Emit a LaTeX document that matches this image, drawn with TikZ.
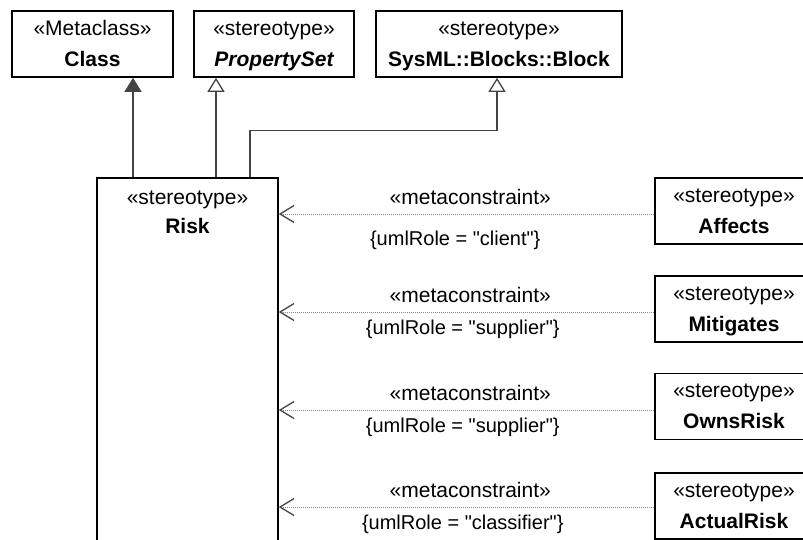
\documentclass[tikz,border=0pt]{standalone}
\usepackage{fontspec}
\setmainfont{Liberation Sans}[Ligatures=TeXOff]
\usetikzlibrary{arrows.meta}
\definecolor{edgegray}{HTML}{444444}
\definecolor{depgray}{HTML}{8A8A8A}
\begin{document}
\begin{tikzpicture}[x=1pt,y=-1pt,
  font=\fontsize{21}{25}\selectfont,
  umlbox/.style={draw=black, line width=1.6pt, fill=white, inner sep=0pt, minimum height=66pt},
  stereo/.style={anchor=base, inner sep=0pt},
  elemname/.style={anchor=base, inner sep=0pt, font=\fontsize{21}{25}\selectfont\bfseries},
  genfill/.style={draw=edgegray, line width=1.3pt, -{Triangle[length=14pt,width=17pt,fill=edgegray]}},
  genopen/.style={draw=edgegray, line width=1.3pt, -{Triangle[open,length=14pt,width=17pt,fill=white]}},
  dep/.style={draw=depgray, line width=1pt, dash pattern=on 1pt off 1pt,
    -{Straight Barb[length=14pt,width=17pt,line width=1.3pt,color=edgegray]}},
  conlabel/.style={anchor=base, inner sep=0pt, text=black},
  rolelabel/.style={anchor=base, inner sep=0pt, text=black, font=\fontsize{20}{24}\selectfont},
]
\useasboundingbox (0,0) rectangle (803,539);
\clip (0,0) rectangle (803,539);

% metaclass and parent stereotypes
\node[umlbox, minimum width=161pt] (class) at (92.5,44) {};
\node[stereo] at ([yshift=-25pt]class.north) {«Metaclass»};
\node[elemname] at ([yshift=-56pt]class.north) {Class};

\node[umlbox, minimum width=160pt] (pset) at (274,44) {};
\node[stereo] at ([yshift=-25pt]pset.north) {«stereotype»};
\node[elemname, font=\fontsize{21}{25}\selectfont\bfseries\itshape] at ([yshift=-56pt]pset.north) {PropertySet};

\node[umlbox, minimum width=246pt] (block) at (499,44) {};
\node[stereo] at ([yshift=-25pt]block.north) {«stereotype»};
\node[elemname] at ([yshift=-56pt]block.north) {SysML::Blocks::Block};

% the Risk stereotype
\node[umlbox, minimum width=181pt, minimum height=382pt] (risk) at (187.5,369) {};
\node[stereo] at ([yshift=-27pt]risk.north) {«stereotype»};
\node[elemname] at ([yshift=-56pt]risk.north) {Risk};

% related stereotypes on the right
\foreach \id/\lbl/\cy in {affects/Affects/211, mitigates/Mitigates/309, owns/OwnsRisk/406.5, actual/ActualRisk/506}{
  \node[umlbox, minimum width=158pt] (\id) at (734,\cy) {};
  \node[stereo] at ([yshift=-25pt]\id.north) {«stereotype»};
  \node[elemname] at ([yshift=-56pt]\id.north) {\lbl};
}

% generalizations
\draw[genfill] ([xshift=-54.5pt]risk.north) -- ([xshift=40.5pt]class.south);
\draw[genopen] ([xshift=28.5pt]risk.north) -- ([xshift=-58pt]pset.south);
\draw[genopen] ([xshift=62.5pt]risk.north) -- ++(0,-47) -| ([xshift=-2pt]block.south);

% metaconstraints
\coordinate (s1) at ([yshift=-3pt]affects.west);
\coordinate (s2) at ([yshift=-3pt]mitigates.west);
\coordinate (s3) at ([yshift=-3.5pt]owns.west);
\coordinate (s4) at ([yshift=-1pt]actual.west);

\draw[dep] (s1) -- (s1 -| risk.east)
  node[conlabel, pos=0.49, yshift=10pt] {«metaconstraint»}
  node[rolelabel, pos=0.53, yshift=-31pt] {\{umlRole = "client"\}};
\draw[dep] (s2) -- (s2 -| risk.east)
  node[conlabel, pos=0.49, yshift=10pt] {«metaconstraint»}
  node[rolelabel, pos=0.51, yshift=-22pt] {\{umlRole = "supplier"\}};
\draw[dep] (s3) -- (s3 -| risk.east)
  node[conlabel, pos=0.49, yshift=10pt] {«metaconstraint»}
  node[rolelabel, pos=0.51, yshift=-22pt] {\{umlRole = "supplier"\}};
\draw[dep] (s4) -- (s4 -| risk.east)
  node[conlabel, pos=0.49, yshift=10pt] {«metaconstraint»}
  node[rolelabel, pos=0.51, yshift=-22pt] {\{umlRole = "classifier"\}};
\end{tikzpicture}
\end{document}
